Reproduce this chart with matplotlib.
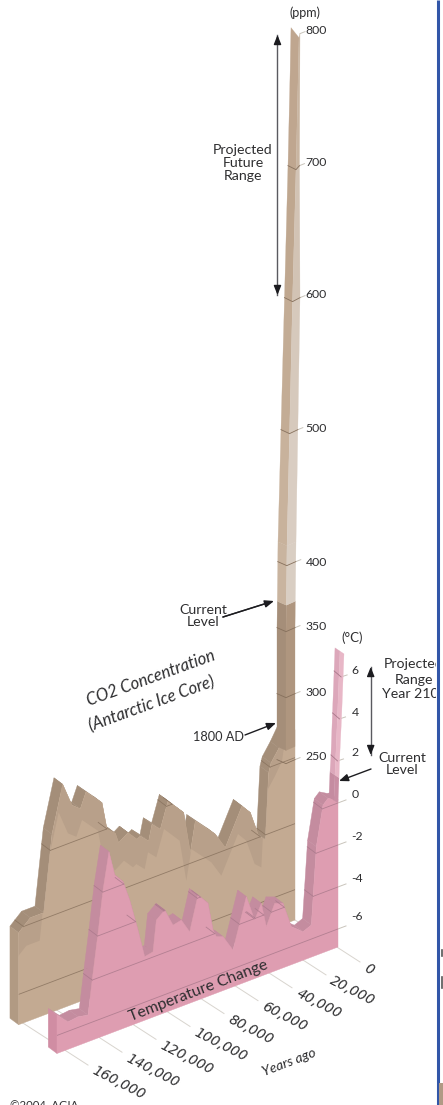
import numpy as np
import matplotlib
matplotlib.use('Agg')
import matplotlib.pyplot as plt
from matplotlib.patches import Polygon, Rectangle

plt.rcParams['font.family'] = ['Lato', 'DejaVu Sans']

co2_years = [162550, 155690, 147840, 142940, 136670, 131180, 126270, 122940, 113530, 110590,
             105690, 103730, 98240, 92940, 90980, 86080, 84120, 79220, 74710, 65490,
             61570, 58630, 46860, 40980, 31180, 26270, 21370, 17450, 15490, 14120,
             9410, 5290]
co2_ppm = [196.7, 204.7, 204.7, 261.7, 296.5, 277.9, 272.9, 284.0, 271.2, 249.7,
           244.3, 236.2, 241.1, 233.5, 235.0, 228.8, 240.6, 234.4, 253.6, 240.3,
           208.0, 230.6, 214.8, 201.8, 228.6, 221.1, 201.1, 196.6, 246.2, 252.8,
           261.9, 271.2]
co2_current = 370
co2_top = 800
co2_ticks = [250, 300, 350, 400, 500, 600, 700]
co2_tick_labels = ['250', '300', '350', '400', '500', '600', '700', '800']

temp_years = [165300, 158820, 152940, 147060, 144120, 141180, 138240, 134710, 131370, 126470,
              122550, 117650, 113730, 108820, 106860, 101960, 97060, 92160, 87250, 82350,
              76470, 73530, 71570, 67650, 61760, 53920, 49020, 45100, 42160, 37250,
              32350, 27450, 20590, 15690, 12750, 8820, 5880, 980, 0]
temp_deg = [-5.03, -5.55, -5.49, -5.59, -3.69, -1.88, 0.09, 1.81, 0.6, 0.13,
            -0.86, -2.44, -3.83, -3.75, -2.3, -1.97, -2.84, -2.75, -3.46, -1.86,
            -2.43, -3.79, -4.17, -4.29, -5.11, -2.81, -4.07, -3.4, -4.6, -3.64,
            -3.79, -5.05, -5.5, -5.33, -1.69, 0.17, 0.4, 0.17, 0.17]
temp_current = 1.2
temp_top = 7.1
temp_ticks = [2, 4, 6]
temp_tick_labels = ['6', '4', '2', '0', '-2', '-4', '-6']

year_ticks = [0, 20000, 40000, 60000, 80000, 100000, 120000, 140000, 160000]
year_labels = ['0', '20,000', '40,000', '60,000', '80,000', '100,000', '120,000', '140,000', '160,000']

TAN, TAN_SHADE, TAN_TOP, TAN_SIDE = '#C3AA92', '#B8A08A', '#A48E79', '#B19A83'
PINK, PINK_TOP, PINK_SIDE = '#DE9DB1', '#C48C9F', '#D08DA3'
INK = '#2E2E30'
DEPTH = np.array([-8.7, -6.5])
SLOPE = 0.379
PX_PER_YEAR = 34 / 20000
CO2_BASE, TEMP_BASE = 127, -6.86


def project(years, value, x0, y0, base, scale):
    years = np.asarray(years, dtype=float)
    value = np.asarray(value, dtype=float)
    x = x0 - years * PX_PER_YEAR
    y = y0 + years * PX_PER_YEAR * SLOPE - (value - base) * scale
    return np.column_stack([x, y])


def co2_xy(years, value):
    return project(years, value, 295, 920, CO2_BASE, 1.32)


def temp_xy(years, value):
    return project(years, value, 338, 947, TEMP_BASE, 21)


def slab(xy_fn, years, values, base, ticks, face, top, side, line, zo):
    prof = xy_fn(years, values)
    for i in range(len(prof) - 1):
        quad = [prof[i], prof[i + 1], prof[i + 1] + DEPTH, prof[i] + DEPTH]
        ax.add_patch(Polygon(quad, fc=top, ec=top, lw=0.3, zorder=zo))
    low_left = xy_fn(years[0], base)[0]
    ax.add_patch(Polygon([prof[0], low_left, low_left + DEPTH, prof[0] + DEPTH],
                         fc=side, ec=side, lw=0.3, zorder=zo))
    right = xy_fn(0, values[-1])
    low_right = xy_fn(0, base)
    outline = np.vstack([prof, right, low_right, [low_left]])
    poly = Polygon(outline, fc=face, ec=face, lw=0.3, zorder=zo + 1)
    ax.add_patch(poly)
    for t in ticks:
        pts = xy_fn([years[0], 0], [t, t])
        ln, = ax.plot(pts[:, 0], pts[:, 1], color=line, lw=0.6, alpha=0.8, zorder=zo + 3)
        ln.set_clip_path(poly)
        for i in range(len(values) - 1):
            if (values[i] - t) * (values[i + 1] - t) < 0:
                f = (t - values[i]) / (values[i + 1] - values[i])
                p = prof[i] + f * (prof[i + 1] - prof[i])
                ax.plot([p[0], p[0] + DEPTH[0]], [p[1], p[1] + DEPTH[1]], color=line,
                        lw=0.6, alpha=0.8, zorder=zo + 3)
    return prof, poly


def label(x, y, s, size=8.8, **kw):
    kw.setdefault('ha', 'center')
    kw.setdefault('va', 'center')
    kw.setdefault('color', INK)
    return ax.text(x, y, s, fontsize=size, zorder=20, **kw)


def head(a, b):
    ax.annotate('', xy=b, xytext=a, zorder=19,
                arrowprops=dict(arrowstyle='-|>,head_length=0.55,head_width=0.22',
                                color='#1C1C20', lw=1.0, shrinkA=0, shrinkB=0))


def range_arrow(x, y0, y1):
    ax.plot([x, x], [y0, y1], color='#5A5A60', lw=1.0, zorder=18)
    head((x, y0 - 8), (x, y0))
    head((x, y1 + 8), (x, y1))


fig = plt.figure(figsize=(4.43, 11.05), dpi=100)
ax = fig.add_axes([0, 0, 1, 1])
ax.set_xlim(0, 443)
ax.set_ylim(1105, 0)
ax.axis('off')

# year ticks on the floor
for yr, name in zip(year_ticks, year_labels):
    p = co2_xy(yr, CO2_BASE)[0]
    ax.plot([p[0], p[0] + 65], [p[1], p[1] + 42], color='#D8D4CE', lw=0.7, zorder=1)
    ax.text(p[0] + 70, p[1] + 47, name, fontsize=10, rotation=-27, rotation_mode='anchor',
            ha='left', va='center', color=INK, family='DejaVu Sans', style='oblique', zorder=2)

# co2 slab
prof, tan_poly = slab(co2_xy, co2_years, co2_ppm, CO2_BASE, [150, 200, 250],
                      TAN, TAN_TOP, TAN_SIDE, '#86705C', 3)
shade = prof + np.array([-4, 28])
shade_poly = Polygon(np.vstack([prof, shade[::-1]]), fc=TAN_SHADE, ec='none', zorder=5)
ax.add_patch(shade_poly)
shade_poly.set_clip_path(tan_poly)

# co2 column, edges drift with height
col_v = [260, 350, 415, 600, 700, 800]
col_left = [277, 277, 278, 284.5, 288, 291]
col_ridge = [286, 286, 287, 292.5, 296, 299]
col_right = [295, 295, 296, 300, 299.5, 300]
bands = [260, co2_current, 415, 500, 600, 700, co2_top]
band_left = ['#A58E79', '#C9B49F', '#C8B29C', '#C3AC95', '#BFA78F', '#BFA68F']
band_right = ['#AF967F', '#D9CEC3', '#D9CDC2', '#D6C9BC', '#D2C3B4', '#C9B5A1']


def col_y(v):
    return co2_xy(0, v)[0][1] + 2


for i in range(len(bands) - 1):
    v = np.linspace(bands[i], bands[i + 1], 12)
    yy = np.array([col_y(q) for q in v])
    xl, xm, xr = np.interp(v, col_v, col_left), np.interp(v, col_v, col_ridge), np.interp(v, col_v, col_right)
    off_l = np.where(v > 780, -6, 0)
    ax.fill(np.r_[xl, xm[::-1]], np.r_[yy + off_l, (yy + 4)[::-1]], fc=band_left[i], ec=band_left[i], lw=0.2, zorder=7)
    ax.fill(np.r_[xm, xr[::-1]], np.r_[yy + 4, yy[::-1]], fc=band_right[i], ec=band_right[i], lw=0.2, zorder=7)

for t in co2_ticks + [co2_top]:
    xl, xm, xr = [np.interp(t, col_v, c) for c in (col_left, col_ridge, col_right)]
    y = col_y(t)
    if t != co2_top:
        ax.plot([xl, xm, xr], [y, y + 4, y], color='#86705C', lw=0.6, zorder=8)
    ax.plot([xr, xr + 5], [y, y - 2], color='#C9C4BB', lw=0.7, zorder=2)

# temperature slab
temp_prof, pink_poly = slab(temp_xy, temp_years, temp_deg, TEMP_BASE, [-6, -4, -2, 0],
                            PINK, PINK_TOP, PINK_SIDE, '#A8788A', 9)
for t in [-6, -4, -2, 0]:
    p = temp_xy(0, t)[0]
    ax.plot([p[0], p[0] + 8], [p[1], p[1] - 3], color='#C9C4BB', lw=0.7, zorder=2)

tcol_v = [0, temp_current, 2, 4, temp_top]
tcol_left = [329, 330, 331, 332.5, 335]
tcol_right = [338, 339, 339.5, 341.5, 344]
tbands = [0, temp_current, temp_top]
tband_left = ['#C58CA1', '#DCA7BA']
tband_right = ['#C98FA4', '#E8B7C7']


def temp_col_y(v):
    return temp_xy(0, v)[0][1]


for i in range(2):
    v = np.linspace(tbands[i], tbands[i + 1], 10)
    yy = np.array([temp_col_y(q) for q in v])
    xl, xr = np.interp(v, tcol_v, tcol_left), np.interp(v, tcol_v, tcol_right)
    xm = xl + 0.55 * (xr - xl)
    ym = yy - 6 + 0.55 * 6
    ax.fill(np.r_[xl, xm[::-1]], np.r_[yy - 6, ym[::-1]], fc=tband_left[i], ec=tband_left[i], lw=0.2, zorder=12)
    ax.fill(np.r_[xm, xr[::-1]], np.r_[ym, yy[::-1]], fc=tband_right[i], ec=tband_right[i], lw=0.2, zorder=12)

for t in temp_ticks:
    xl, xr = np.interp(t, tcol_v, tcol_left), np.interp(t, tcol_v, tcol_right)
    y = temp_col_y(t)
    ax.plot([xl, xr - 2], [y - 6, y], color='#A8788A', lw=0.6, zorder=13)
    ax.plot([xr - 2, xr + 4], [y, y - 2], color='#C9C4BB', lw=0.7, zorder=2)

# value labels
for txt, y in zip(co2_tick_labels, [757, 692, 627, 562, 428, 295, 163, 30]):
    label(316.5, y, txt)
label(305.5, 13, '(ppm)', 9)
label(352, 638, '(°C)', 9.5)
for txt, y, x in zip(temp_tick_labels, [671, 713, 753, 794, 836, 878, 916], [355, 355, 355, 355, 357, 357, 357]):
    label(x, y, txt)

# annotations
label(243, 163, 'Projected\nFuture\nRange', 10.2, linespacing=1.05)
label(203, 616, 'Current\nLevel', 10.2, linespacing=1.05)
label(218.5, 737, '1800 AD', 9.2)
clip = Rectangle((0, 0), 436, 1105, transform=ax.transData)
for txt, y in zip(['Projected', 'Range', 'Year 2100'], [664, 680, 694]):
    t = label(414, y, txt, 10.2)
    t.set_clip_on(True)
    t.set_clip_path(clip)
label(402, 764, 'Current\nLevel', 10.2, linespacing=1.05)
label(151, 678, 'CO2 Concentration', 12, rotation=20, style='italic', rotation_mode='anchor')
label(152, 704, '(Antarctic Ice Core)', 12, rotation=20, style='italic', rotation_mode='anchor')
label(198, 991, 'Temperature Change', 11.4, rotation=21, rotation_mode='anchor')
label(289, 1062, 'Years ago', 10, rotation=21, style='italic', rotation_mode='anchor')
label(44, 1106, '©2004, AGIA', 8.2)

range_arrow(277.5, 295, 35)
range_arrow(370.7, 755, 667)
ax.plot([223, 264], [617, 604], color='#2E2E30', lw=1.0, zorder=18)
head((223, 617), (274, 601))
head((245, 735), (276, 723))
head((371, 769), (339, 781))

# frame of the page this was cut from
ax.plot([437.8, 437.8], [0, 1105], color='#3256A8', lw=2.2, zorder=25, solid_capstyle='butt')
ax.add_patch(Rectangle((439.2, 1083), 4, 22, fc='#B09A85', ec='none', zorder=25))
ax.plot([442, 442], [950, 956], color='#555555', lw=1.2, zorder=25)
ax.plot([442, 442], [977, 988], color='#555555', lw=1.2, zorder=25)

fig.savefig('out.png', dpi=100)
